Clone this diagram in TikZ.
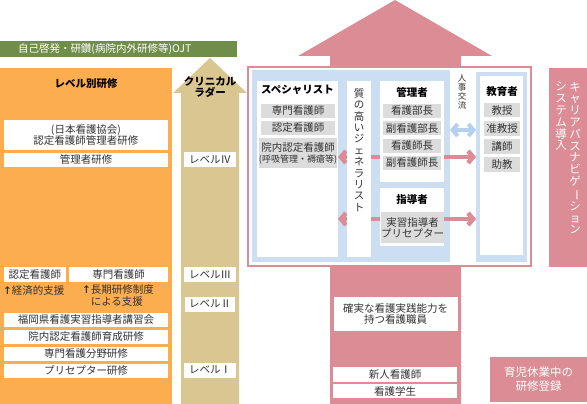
\documentclass[tikz,border=0pt]{standalone}
\usepackage{fontspec}
\setmainfont{Noto Sans CJK JP}
\newfontfamily\symfont{DejaVu Sans}
\usepackage{graphicx}
\usetikzlibrary{arrows.meta,positioning,backgrounds}

\definecolor{ojtgreen}{RGB}{112,142,74}
\definecolor{lvorange}{RGB}{251,173,80}
\definecolor{laddertan}{RGB}{218,198,144}
\definecolor{careerpink}{RGB}{219,140,148}
\definecolor{frameblue}{RGB}{203,222,242}
\definecolor{itemgray}{RGB}{220,220,220}
\definecolor{xchgblue}{RGB}{180,208,240}

\newcommand{\upa}{{\symfont\bfseries ↑}}
\newcommand{\vbar}{\rotatebox[origin=c]{-90}{ー}}

\begin{document}
\begin{tikzpicture}[x=1pt, y=-1pt,
  every node/.style={inner sep=0pt, outer sep=0pt, text=black!80,
                     font=\fontsize{10.5}{11}\selectfont},
  wbox/.style={fill=white, minimum width=#1, minimum height=14.5pt, align=center},
  wbox/.default=164pt,
  gbox/.style={fill=itemgray, minimum width=#1, minimum height=14pt, align=center},
  gbox/.default=58pt,
  lvl/.style={fill=white, minimum width=52pt, minimum height=15pt},
  colbox/.style={fill=white, anchor=north west},
  bluebox/.style={fill=frameblue, anchor=north west},
  hdr/.style={text=black, font=\fontsize{10.5}{11}\selectfont\bfseries},
  vtext/.style={align=center, font=\fontsize{10.5}{11.4}\selectfont},
  barb/.style={{Straight Barb[length=5pt,width=12pt]}-{Straight Barb[length=5pt,width=12pt]},
               line width=4.5pt}
]
\useasboundingbox (0,0) rectangle (587,404);

\node[fill=ojtgreen, minimum width=237pt, minimum height=16pt, anchor=north west] (ojt) at (0,41) {};
\node[text=white, anchor=west] at ([xshift=18pt]ojt.west) {自己啓発・研鑽(病院内外研修等)OJT};

\node[fill=lvorange, minimum width=172pt, minimum height=336pt, anchor=north west] (lv) at (0,68) {};
\node[hdr] at (86,84) {レベル別研修};
\node[wbox, minimum height=30pt] (cnm) at (86,135) {(日本看護協会)\\認定看護師管理者研修};
\node[wbox] (mgt) at (86,160) {管理者研修};
\node[wbox=62pt] (cn) at (35,274.5) {認定看護師};
\node[wbox=99pt] (cns) at (118.5,274.5) {専門看護師};
\node[anchor=west] (eco) at (3,291) {\upa 経済的支援};
\node[anchor=north west, align=left, font=\fontsize{10.5}{12}\selectfont] (long) at (82,285) {\upa 長期研修制度\\\phantom{\upa}による支援};
\node[wbox, anchor=north] (fkk) at (86,312.5) {福岡県看護実習指導者講習会};
\node[wbox, below=2.5pt of fkk] (inn) {院内認定看護師育成研修};
\node[wbox, below=2.5pt of inn] (cnf) {専門看護分野研修};
\node[wbox, below=2.5pt of cnf] (prc) {プリセプター研修};

\fill[laddertan] (181,404) -- (181,93) -- (173,93) -- (210,58) -- (247,93) -- (239,93) -- (239,404) -- cycle;
\node[hdr, align=center, font=\fontsize{10.5}{11}\selectfont\bfseries] (ladder) at (210,87.5) {クリニカル\\ラダー};
\node[lvl] (l4) at (210,159.5) {レベルⅣ};
\node[lvl] (l3) at (210,274.5) {レベルⅢ};
\node[lvl, minimum width=50pt] (l2) at (210,304) {レベルⅡ};
\node[lvl] (l1) at (210,370) {レベルⅠ};

\node[colbox, minimum width=81pt, minimum height=176pt] (spec) at (257,81) {};
\node[colbox, minimum width=24pt, minimum height=176pt] (gen) at (347,81) {};
\node[colbox, minimum width=64pt, minimum height=101pt] (mgr) at (380,81) {};
\node[colbox, minimum width=64pt, minimum height=58pt] (inst) at (380,188) {};
\node[colbox, minimum width=43pt, minimum height=179pt] (edu) at (480,76) {};

\node[hdr] at (297.5,90) {スペシャリスト};
\node[gbox=74pt, anchor=north] (sp1) at (298,104) {専門看護師};
\node[gbox=74pt, below=3pt of sp1] (sp2) {認定看護師};
\node[gbox=74pt, minimum height=30pt, below=3pt of sp2] (sp3) {院内認定看護師\\{\fontsize{9}{10.5}\selectfont (呼吸管理・褥瘡等)}};

\node[vtext] at (359,150) {質\\の\\高\\い\\ジ\\ェ\\ネ\\ラ\\リ\\ス\\ト};

\node[hdr] at (412,92) {管理者};
\node[gbox, anchor=north] (mg1) at (412,104) {看護部長};
\node[gbox, below=3.3pt of mg1] (mg2) {副看護部長};
\node[gbox, below=3.3pt of mg2] (mg3) {看護師長};
\node[gbox, below=3.3pt of mg3] (mg4) {副看護師長};

\node[hdr] at (412,199) {指導者};
\node[gbox=59pt, minimum height=31pt] (in1) at (412.5,227.5) {実習指導者\\プリセプター};

\node[vtext, font=\fontsize{8.5}{9}\selectfont] (xchg) at (462,91.5) {人\\事\\交\\流};

\node[hdr] at (502,92) {教育者};
\node[gbox=36pt, minimum height=14.5pt, anchor=north] (ed1) at (502,103) {教授};
\node[gbox=36pt, minimum height=14.5pt, below=3.5pt of ed1] (ed2) {准教授};
\node[gbox=36pt, minimum height=14.5pt, below=3.5pt of ed2] (ed3) {講師};
\node[gbox=36pt, minimum height=14.5pt, below=3.5pt of ed3] (ed4) {助教};

\node[fill=careerpink, anchor=north west, minimum width=38pt, minimum height=199pt] (cnav) at (549,68) {};
\node[vtext, text=white, anchor=north, font=\fontsize{11.5}{11.8}\selectfont] at (575,82) {キ\\ャ\\リ\\ア\\パ\\ス\\ナ\\ビ\\ゲ\\\vbar\\シ\\ョ\\ン};
\node[vtext, text=white, anchor=north, font=\fontsize{11.5}{11.8}\selectfont] at (561,82) {シ\\ス\\テ\\ム\\導\\入};

\node[wbox=124pt, minimum height=34pt] (goal) at (395.5,314) {確実な看護実践能力を\\持つ看護職員};
\node[wbox=124pt] (newn) at (395,374.5) {新人看護師};
\node[wbox=124pt, below=2pt of newn] (stu) {看護学生};

\node[fill=careerpink, text=white, minimum width=97pt, minimum height=45pt, align=center,
      font=\fontsize{11.5}{14}\selectfont] (leave) at (538.5,379.5) {育児休業中の\\研修登録};

\coordinate (r1) at (0,157);
\coordinate (r2) at (0,219);
\coordinate (r3) at (0,130);
\begin{scope}[on background layer]
\fill[careerpink] (330,404) -- (330,56) -- (298,56) -- (395,0) -- (492,56) -- (461,56) -- (461,404) -- cycle;
\draw[careerpink, line width=2pt, fill=white] (248,67) rectangle (531,266);
\node[bluebox, minimum width=198pt, minimum height=192pt] (mainblue) at (252,70) {};
\node[bluebox, minimum width=51pt, minimum height=190pt] (edublue) at (476,72) {};
\draw[barb, careerpink] (spec.east |- r1) -- (edublue.west |- r1);
\draw[barb, careerpink] (spec.east |- r2) -- (edublue.west |- r2);
\draw[barb, xchgblue, line width=4pt] (mainblue.east |- r3) -- (edublue.west |- r3);
\end{scope}
\end{tikzpicture}
\end{document}
